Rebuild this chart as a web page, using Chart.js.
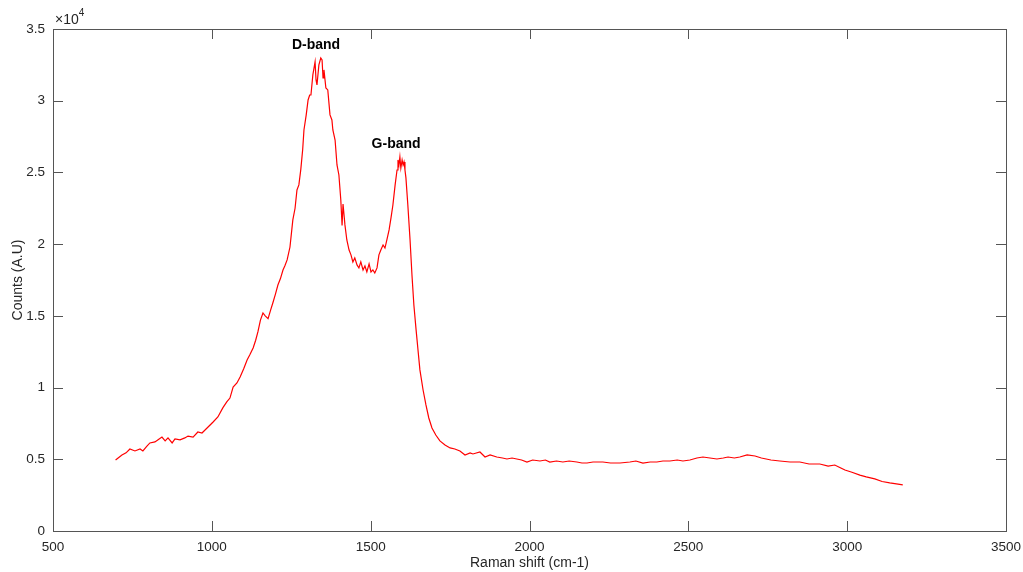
<!DOCTYPE html>
<html>
<head>
<meta charset="utf-8">
<script src="https://cdn.jsdelivr.net/npm/chart.js@4"></script>
<style>
  html, body { margin: 0; padding: 0; background: #fff; }
  #wrap { width: 1023px; height: 572px; }
</style>
</head>
<body>
<div id="wrap"><canvas id="myChart" width="1023" height="572"></canvas></div>
<script>
// Raman spectrum
const shift = [697,705,717,730,742,758,774,783,795,805,821,833,843,853,862,875,884,900,915,925,941,956,969,985,
  1004,1019,1035,1047,1057,1067,1079,1089,1100,1111,1120,1130,1138,1145,1153,1161,1168,1177,1185,1192,1200,1208,
  1216,1224,1230,1237,1246,1255,1262,1268,1274,1280,1286,1290,1297,1303,1308,1312,1318,1325,1328,1331,1337,1343,
  1347,1350,1353,1359,1365,1372,1378,1381,1388,1394,1400,1406,1410,1413,1419,1425,1432,1438,1444,1450,1457,1463,
  1469,1476,1482,1488,1495,1501,1507,1513,1520,1526,1532,1539,1545,1551,1558,1564,1570,1577,1583,1586,1589,1592,
  1595,1599,1602,1605,1608,1611,1617,1624,1630,1636,1643,1649,1655,1665,1674,1683,1693,1705,1718,1734,1750,1765,
  1781,1797,1813,1822,1844,1860,1876,1897,1915,1929,1945,1960,1975,1992,2010,2033,2050,2064,2085,2105,2125,2149,
  2165,2181,2200,2231,2255,2285,2316,2335,2357,2380,2401,2420,2442,2465,2483,2505,2527,2546,2568,2590,2610,2625,
  2645,2662,2685,2710,2730,2760,2788,2820,2851,2880,2914,2940,2961,2980,2993,3015,3040,3060,3087,3110,3134,3155,3175];
const counts = [4950,5090,5300,5450,5720,5580,5720,5580,5900,6140,6210,6400,6550,6280,6490,6140,6420,6350,6490,6620,6550,6900,6830,7180,
  7600,7950,8600,9000,9270,10040,10320,10740,11300,11920,12300,12760,13300,13880,14700,15200,15000,14800,15400,15900,16500,17150,
  17600,18200,18500,18900,19800,21690,22500,23780,24130,25200,26600,27960,29000,30050,30400,30400,31800,32700,31450,31100,32500,32980,
  32850,31590,32150,30890,30750,29010,28660,27960,27260,25520,24820,23080,21300,22800,21340,20290,19590,19250,18760,19040,18550,18340,
  18760,18200,18480,18060,18620,18060,18200,17990,18340,19250,19590,19940,19730,20290,20990,21830,22730,24130,25170,25870,25520,26080,
  25310,25870,25520,25730,25170,24620,22730,20290,17850,15760,14020,12620,11230,9830,8790,7880,7180,6690,6280,6000,5790,5720,
  5580,5300,5440,5370,5510,5160,5300,5160,5090,5020,5090,5020,4950,4810,4950,4880,4950,4810,4880,4810,4880,4810,
  4740,4740,4810,4810,4740,4740,4810,4880,4740,4810,4810,4880,4880,4950,4880,4950,5090,5160,5090,5020,5090,5160,
  5090,5160,5300,5230,5090,4950,4880,4810,4810,4670,4670,4530,4600,4390,4250,4100,3900,3770,3630,3450,3350,3280,3210];

const xTicks = [500,1000,1500,2000,2500,3000,3500];
const yTicks = [0,5000,10000,15000,20000,25000,30000,35000];
const bandLabels = ['D-band', 'G-band'];
const bandShift = [1328, 1580];
const bandCount = [33900, 27000];

const FONT = "'Liberation Sans', Arial, Helvetica, sans-serif";
const TXT = '#262626';

const matlabBox = {
  id: 'matlabBox',
  afterDraw(chart) {
    const c = chart.ctx, a = chart.chartArea;
    const xs = chart.scales.x, ys = chart.scales.y;
    c.save();
    c.strokeStyle = '#555';
    c.lineWidth = 1;
    c.strokeRect(Math.round(a.left) + 0.5, Math.round(a.top) + 0.5,
                 Math.round(a.right - a.left), Math.round(a.bottom - a.top));
    c.beginPath();
    const tl = 10;
    xTicks.forEach(v => {
      const px = Math.round(xs.getPixelForValue(v)) + 0.5;
      c.moveTo(px, a.bottom); c.lineTo(px, a.bottom - tl);
      c.moveTo(px, a.top); c.lineTo(px, a.top + tl);
    });
    yTicks.forEach(v => {
      const py = Math.round(ys.getPixelForValue(v)) + 0.5;
      c.moveTo(a.left, py); c.lineTo(a.left + tl, py);
      c.moveTo(a.right, py); c.lineTo(a.right - tl, py);
    });
    c.stroke();

    // exponent
    c.fillStyle = TXT;
    c.textBaseline = 'alphabetic';
    c.textAlign = 'left';
    c.font = '14px ' + FONT;
    c.fillText('\u00d710', a.left + 2, a.top - 5);
    const w = c.measureText('\u00d710').width;
    c.font = '10px ' + FONT;
    c.fillText('4', a.left + 2 + w, a.top - 13);

    // band labels
    c.fillStyle = '#000';
    c.font = 'bold 14px ' + FONT;
    c.textAlign = 'center';
    c.textBaseline = 'middle';
    bandLabels.forEach((t, i) => {
      c.fillText(t, xs.getPixelForValue(bandShift[i]), ys.getPixelForValue(bandCount[i]));
    });
    c.restore();
  }
};

var ctx = document.getElementById('myChart').getContext('2d');
var myChart = new Chart(ctx, {
  type: 'line',
  data: {
    datasets: [{
      label: 'Spectrum',
      data: shift.map((s, i) => ({x: s, y: counts[i]})),
      borderColor: '#ff0000',
      borderWidth: 1.2,
      pointRadius: 0,
      tension: 0,
      fill: false
    }]
  },
  options: {
    responsive: false,
    animation: false,
    layout: { padding: { left: 0, top: 29, right: 17, bottom: 0 } },
    plugins: { legend: { display: false }, tooltip: { enabled: false } },
    scales: {
      x: {
        type: 'linear',
        min: 500, max: 3500,
        afterBuildTicks: s => { s.ticks = xTicks.map(v => ({value: v})); },
        afterFit: s => { s.height = 41; s.paddingLeft = 0; s.paddingRight = 0; },
        grid: { display: false, drawTicks: false },
        border: { display: false },
        ticks: { color: TXT, font: { family: FONT, size: 13.5 }, padding: 8, maxRotation: 0,
                 callback: v => String(v) },
        title: { display: true, text: 'Raman shift (cm-1)', color: TXT,
                 font: { family: FONT, size: 14 }, padding: { top: 0, bottom: 0 } }
      },
      y: {
        min: 0, max: 35000,
        afterBuildTicks: s => { s.ticks = yTicks.map(v => ({value: v})); },
        afterFit: s => { s.width = 53; s.paddingTop = 0; s.paddingBottom = 0; },
        grid: { display: false, drawTicks: false },
        border: { display: false },
        ticks: { color: TXT, font: { family: FONT, size: 13.5 }, padding: 8,
                 callback: v => String(v / 10000) },
        title: { display: true, text: 'Counts (A.U)', color: TXT,
                 font: { family: FONT, size: 14 }, padding: { top: 10, bottom: 0 } }
      }
    }
  },
  plugins: [matlabBox]
});
</script>
</body>
</html>
